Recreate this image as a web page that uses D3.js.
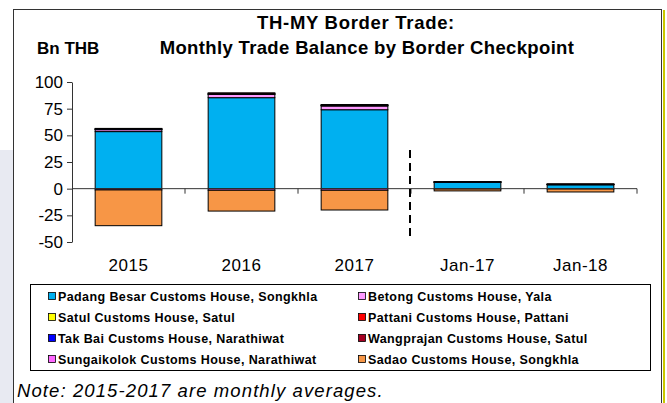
<!DOCTYPE html>
<html>
<head>
<meta charset="utf-8">
<script src="https://cdn.jsdelivr.net/npm/d3@7"></script>
<style>
  body { margin: 0; background: #fff; }
  text { font-family: "Liberation Sans", Arial, sans-serif; }
</style>
</head>
<body>
<div id="chart"></div>
<script>
// chart space
const width = 667,
  height = 403,
  margin = { top: 82, bottom: 161, left: 72, right: 30 };

// data
const categories = ["2015", "2016", "2017", "Jan-17", "Jan-18"];
const seriesNames = [
  "Padang Besar Customs House, Songkhla",
  "Betong Customs House, Yala",
  "Satul Customs House, Satul",
  "Pattani Customs House, Pattani",
  "Tak Bai Customs House, Narathiwat",
  "Wangprajan Customs House, Satul",
  "Sungaikolok Customs House, Narathiwat",
  "Sadao Customs House, Songkhla"
];
const padangBesar = [53.5, 85.3, 74.0, 5.8, 3.6];
const betong      = [1.8, 3.0, 3.5, 0.3, 0.3];
const satul       = [0.3, 0.4, 0.4, 0.05, 0.05];
const pattani     = [0.1, 0.1, 0.1, 0.02, 0.02];
const takBai      = [0.5, 0.6, 0.5, 0.4, 0.4];
const wangprajan  = [0.3, 0.4, 0.4, 0.1, 0.1];
const sungaikolok = [-1.2, -1.5, -1.5, -0.3, -0.3];
const sadao       = [-33.5, -19.5, -18.5, -1.8, -2.8];
const colors = ["#00B0F0", "#FF99FF", "#FFFF00", "#FF0000", "#0000FF", "#A50021", "#FF66FF", "#F79646"];
const yTicks = [-50, -25, 0, 25, 50, 75, 100];

const seriesValues = [padangBesar, betong, satul, pattani, takBai, wangprajan, sungaikolok, sadao];
const table = categories.map((c, i) => {
  const row = { cat: c };
  seriesNames.forEach((s, j) => row[s] = seriesValues[j][i]);
  return row;
});

const svg = d3.select("#chart").append("svg")
  .attr("width", width)
  .attr("height", height);

// page background bits
svg.append("rect").attr("x", 0).attr("y", 150).attr("width", 13).attr("height", 253).attr("fill", "#e8eaf2");
svg.append("rect").attr("x", 13.5).attr("y", 9.5).attr("width", 648).attr("height", 400)
  .attr("fill", "#fff").attr("stroke", "#333").attr("stroke-width", 1);
svg.append("line").attr("x1", 664).attr("x2", 664).attr("y1", 10).attr("y2", 403)
  .attr("stroke", "#c8c800").attr("stroke-width", 2);

// scales
const xScale = d3.scaleBand()
  .domain(categories)
  .range([margin.left, width - margin.right])
  .paddingInner(0.41)
  .paddingOuter(0.205);

const yScale = d3.scaleLinear()
  .domain([-50, 100])
  .range([height - margin.bottom, margin.top]);

// stacked bars
const stack = d3.stack().keys(seriesNames).offset(d3.stackOffsetDiverging);
const stacked = stack(table);

svg.append("g").selectAll("g")
  .data(stacked)
  .join("g")
  .attr("fill", (d, i) => colors[i])
  .selectAll("rect")
  .data(d => d)
  .join("rect")
  .attr("x", d => xScale(d.data.cat))
  .attr("width", xScale.bandwidth())
  .attr("y", d => yScale(Math.max(d[0], d[1])))
  .attr("height", d => Math.abs(yScale(d[0]) - yScale(d[1])))
  .attr("stroke", "#000")
  .attr("stroke-width", 1);

// y axis (plain hyphen for negatives, like the original)
const yAxis = d3.axisLeft(yScale).tickValues(yTicks).tickSize(5).tickSizeOuter(0)
  .tickFormat(d => String(d));
const yAxisGroup = svg.append("g")
  .attr("transform", `translate(${margin.left},0)`)
  .call(yAxis);
yAxisGroup.select(".domain").attr("stroke", "#333");
yAxisGroup.selectAll(".tick line").attr("stroke", "#333");
yAxisGroup.selectAll("text")
  .attr("font-size", 17)
  .attr("fill", "#000")
  .attr("x", -9);

// x axis along zero
const step = xScale.step();
const bounds = d3.range(categories.length + 1).map(i => margin.left + i * step);
svg.append("line")
  .attr("x1", margin.left).attr("x2", width - margin.right)
  .attr("y1", yScale(0)).attr("y2", yScale(0))
  .attr("stroke", "#333");
svg.append("g").selectAll("line")
  .data(bounds.slice(1))
  .join("line")
  .attr("x1", d => d).attr("x2", d => d)
  .attr("y1", yScale(0)).attr("y2", yScale(0) + 5)
  .attr("stroke", "#333");

// category labels
svg.append("g").selectAll("text")
  .data(categories)
  .join("text")
  .attr("x", d => xScale(d) + xScale.bandwidth() / 2)
  .attr("y", 271)
  .attr("text-anchor", "middle")
  .attr("font-size", 17)
  .attr("letter-spacing", 0.5)
  .text(d => d);

// dashed divider
svg.append("line")
  .attr("x1", bounds[3] - 1).attr("x2", bounds[3] - 1)
  .attr("y1", 150).attr("y2", 240)
  .attr("stroke", "#000")
  .attr("stroke-width", 2)
  .attr("stroke-dasharray", "8,5");

// titles
svg.append("text").attr("x", 356).attr("y", 29).attr("text-anchor", "middle")
  .attr("font-size", 18.5).attr("font-weight", "bold").attr("letter-spacing", 0.7)
  .text("TH-MY Border Trade:");
svg.append("text").attr("x", 367).attr("y", 54).attr("text-anchor", "middle")
  .attr("font-size", 18.5).attr("font-weight", "bold").attr("letter-spacing", 0.35)
  .text("Monthly Trade Balance by Border Checkpoint");
svg.append("text").attr("x", 37).attr("y", 54)
  .attr("font-size", 17).attr("font-weight", "bold").text("Bn THB");

// legend
svg.append("rect").attr("x", 30.5).attr("y", 284.5).attr("width", 620).attr("height", 86)
  .attr("fill", "#fff").attr("stroke", "#000");
const legend = svg.append("g").selectAll("g")
  .data(seriesNames)
  .join("g")
  .attr("transform", (d, i) => `translate(${i % 2 === 0 ? 52 : 362},${296 + Math.floor(i / 2) * 21})`);
legend.append("rect")
  .attr("x", -3.5).attr("y", -3.5).attr("width", 7).attr("height", 7)
  .attr("fill", (d, i) => colors[i]).attr("stroke", "#000").attr("stroke-width", 0.8);
legend.append("text")
  .attr("x", 6).attr("y", 4.5)
  .attr("font-size", 12.5).attr("font-weight", "bold").attr("letter-spacing", 0.4)
  .text(d => d);

// note
svg.append("text").attr("x", 17).attr("y", 397)
  .attr("font-size", 18.5).attr("font-style", "italic").attr("letter-spacing", 1.1)
  .text("Note: 2015-2017 are monthly averages.");
</script>
</body>
</html>
